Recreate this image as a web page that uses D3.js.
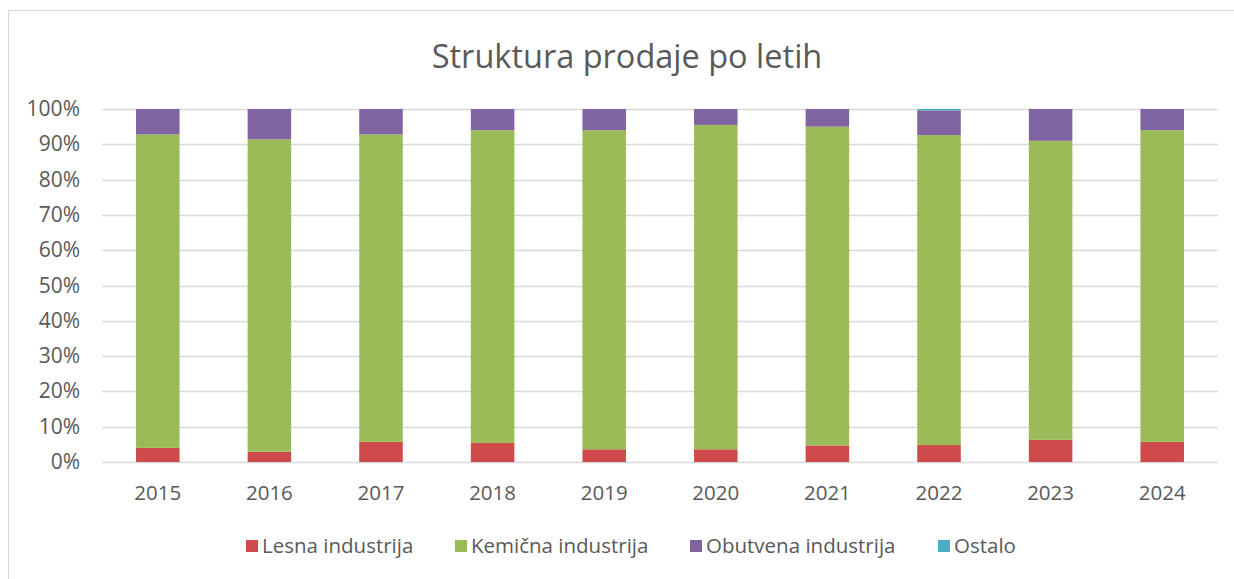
<!DOCTYPE html>
<html lang="sl">
<head>
<meta charset="utf-8">
<script src="https://cdn.jsdelivr.net/npm/d3@7"></script>
<style>
  body { margin: 0; background: #fff; }
  svg text { font-family: "Open Sans", "Noto Sans", sans-serif; fill: #595959; }
</style>
</head>
<body>
<script>
// leta
var years = ["2015", "2016", "2017", "2018", "2019", "2020", "2021", "2022", "2023", "2024"];
// deleži v % (odčitano s slike)
var lesna    = [4.0, 2.9, 5.7, 5.4, 3.6, 3.6, 4.7, 4.8, 6.3, 5.7];
var kemicna  = [88.8, 88.5, 87.1, 88.6, 90.4, 91.9, 90.3, 87.8, 84.7, 88.3];
var obutvena = [7.2, 8.6, 7.2, 6.0, 6.0, 4.5, 5.0, 7.0, 9.0, 6.0];
var ostalo   = [0, 0, 0, 0, 0, 0, 0, 0.4, 0, 0];
var seriesNames = ["Lesna industrija", "Kemična industrija", "Obutvena industrija", "Ostalo"];
var colors = ["#cf4a4a", "#9bbb59", "#8064a2", "#4bacc6"];
var yTicks = [0, 10, 20, 30, 40, 50, 60, 70, 80, 90, 100];

var chartWidth = 1234, chartHeight = 579;
var plotLeft = 102, plotRight = 1218, plotTop = 109, plotBottom = 462;

var svg = d3.select("body").append("svg")
    .attr("width", chartWidth)
    .attr("height", chartHeight);

// okvir
svg.append("rect")
    .attr("x", 8.5).attr("y", 10.5)
    .attr("width", 1240).attr("height", 620)
    .style("fill", "none")
    .style("stroke", "#d9d9d9");

svg.append("text")
    .attr("x", 627).attr("y", 68)
    .attr("text-anchor", "middle")
    .style("font-size", "32.5px")
    .text("Struktura prodaje po letih");

var x = d3.scaleBand().domain(years).range([plotLeft, plotRight]).paddingInner(0.61).paddingOuter(0.305);
var y = d3.scaleLinear().domain([0, 100]).range([plotBottom, plotTop]);

// mreža
svg.selectAll(".grid")
    .data(yTicks)
    .enter()
    .append("line")
    .attr("class", "grid")
    .attr("x1", plotLeft).attr("x2", plotRight)
    .attr("y1", function(d){ return Math.round(y(d)) + 0.5; })
    .attr("y2", function(d){ return Math.round(y(d)) + 0.5; })
    .style("stroke", "#d9d9d9")
    .style("stroke-width", 1.5);

svg.selectAll(".ytick")
    .data(yTicks)
    .enter()
    .append("text")
    .attr("class", "ytick")
    .attr("x", 80)
    .attr("y", function(d){ return y(d) + 7; })
    .attr("text-anchor", "end")
    .style("font-size", "21px")
    .text(function(d){ return d + "%"; });

svg.selectAll(".xtick")
    .data(years)
    .enter()
    .append("text")
    .attr("class", "xtick")
    .attr("x", function(d){ return x(d) + x.bandwidth() / 2; })
    .attr("y", 500)
    .attr("text-anchor", "middle")
    .style("font-size", "20.5px")
    .text(function(d){ return d; });

// podatki za sklad
var rows = years.map(function(yr, i){
    return { year: yr, s0: lesna[i], s1: kemicna[i], s2: obutvena[i], s3: ostalo[i] };
});
var stack = d3.stack().keys(["s0", "s1", "s2", "s3"]);
var layers = stack(rows);

svg.selectAll(".layer")
    .data(layers)
    .enter()
    .append("g")
    .attr("class", "layer")
    .style("fill", function(d, i){ return colors[i]; })
    .selectAll("rect")
    .data(function(d){ return d; })
    .enter()
    .append("rect")
    .attr("x", function(d){ return x(d.data.year); })
    .attr("width", x.bandwidth())
    .attr("y", function(d){ return y(d[1]); })
    .attr("height", function(d){ return y(d[0]) - y(d[1]); });

// legenda
var legendX = [246, 455, 690, 938];
var legend = svg.selectAll(".legend")
    .data(seriesNames)
    .enter()
    .append("g")
    .attr("class", "legend")
    .attr("transform", function(d, i){ return "translate(" + legendX[i] + ",540)"; });

legend.append("rect")
    .attr("width", 12).attr("height", 12)
    .style("fill", function(d, i){ return colors[i]; });

legend.append("text")
    .attr("x", 16).attr("y", 13)
    .style("font-size", "20.5px")
    .text(function(d){ return d; });
</script>
</body>
</html>
